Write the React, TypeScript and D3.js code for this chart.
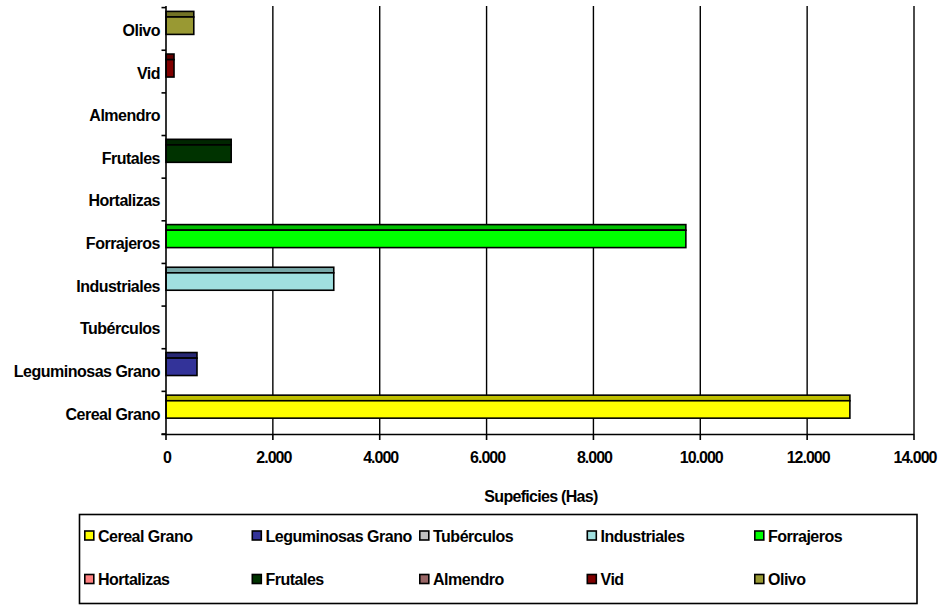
import React from 'react';
import * as d3 from 'd3';

const categories = ['Cereal Grano', 'Leguminosas Grano', 'Tubérculos', 'Industriales', 'Forrajeros', 'Hortalizas', 'Frutales', 'Almendro', 'Vid', 'Olivo'];
const values = [12800, 580, 0, 3140, 9730, 0, 1220, 0, 150, 520];
const colors = ['#FFFF00', '#333399', '#C0C0C0', '#A0E0E0', '#00FF00', '#FF8080', '#003300', '#996666', '#800000', '#999933'];
const xTicks = [0, 2000, 4000, 6000, 8000, 10000, 12000, 14000];
const xTitle = 'Supeficies (Has)';

const W = 942;
const H = 605;
const FONT = '"Liberation Sans", Arial, sans-serif';

const locale = d3.formatLocale({ decimal: ',', thousands: '.', grouping: [3], currency: ['', ''] });
const fmt = locale.format(',');

function shade(c: string, k = 0.75) {
  const r = d3.rgb(c);
  return d3.rgb(r.r * k, r.g * k, r.b * k).formatHex();
}

export default function App() {
  const x = d3.scaleLinear().domain([0, 14000]).range([166, 914]);
  const y = d3.scaleBand<string>().domain(categories).range([434, 7.6]).padding(0);
  const bw = y.bandwidth();
  const bandEdges = d3.range(categories.length + 1).map((i) => 434 - i * bw);

  const legendCols = 5;
  const legendX0 = 84;
  const legendDx = 167.5;
  const legendRows = [535.5, 579];

  return (
    <svg width={W} height={H} style={{ position: 'absolute', left: 0, top: 0, background: '#fff' }} fontFamily={FONT}>
      <rect x={0} y={0} width={W} height={H} fill="#fff" />
      {/* gridlines */}
      {xTicks.filter((t) => t > 0).map((t) => (
        <line key={'g' + t} x1={x(t)} x2={x(t)} y1={6} y2={434} stroke="#000" strokeWidth={1.4} />
      ))}
      {/* bars */}
      {categories.map((c, i) => {
        const v = values[i];
        if (!v) return null;
        const y0 = y(c)!;
        const w = x(v) - x(0);
        return (
          <g key={'b' + c}>
            <rect x={x(0)} y={y0 + 3.8} width={w} height={5.6} fill={shade(colors[i])} stroke="#000" strokeWidth={1.6} />
            <rect x={x(0)} y={y0 + 9.4} width={w} height={17.4} fill={colors[i]} stroke="#000" strokeWidth={1.6} />
          </g>
        );
      })}
      {/* axes */}
      <line x1={166} x2={166} y1={6} y2={434} stroke="#000" strokeWidth={1.6} />
      <line x1={161.5} x2={914} y1={434.5} y2={434.5} stroke="#000" strokeWidth={1.6} />
      {bandEdges.map((yy, i) => (
        <line key={'yt' + i} x1={161.5} x2={166} y1={yy} y2={yy} stroke="#000" strokeWidth={1.6} />
      ))}
      {xTicks.map((t) => (
        <line key={'xt' + t} x1={x(t)} x2={x(t)} y1={434} y2={440} stroke="#000" strokeWidth={1.6} />
      ))}
      {xTicks.map((t) => (
        <text key={'xl' + t} x={x(t) + 1} y={463} textAnchor="middle" fontSize={16} fontWeight="bold" letterSpacing={-1} fill="#000">
          {fmt(t)}
        </text>
      ))}
      {categories.map((c) => (
        <text key={'yl' + c} x={160} y={y(c)! + bw / 2 + 7} textAnchor="end" fontSize={16} fontWeight="bold" letterSpacing={-0.5} fill="#000">
          {c}
        </text>
      ))}
      <text x={541} y={502} textAnchor="middle" fontSize={16} fontWeight="bold" letterSpacing={-0.7} fill="#000">
        {xTitle}
      </text>
      {/* legend */}
      <rect x={79.5} y={514.5} width={837.5} height={89} fill="#fff" stroke="#000" strokeWidth={1.6} />
      {categories.map((c, i) => {
        const col = i % legendCols;
        const row = Math.floor(i / legendCols);
        const lx = legendX0 + col * legendDx;
        const cy = legendRows[row];
        return (
          <g key={'lg' + c}>
            <rect x={lx + 0.8} y={cy - 4.5} width={9} height={9} fill={colors[i]} stroke="#000" strokeWidth={1.6} />
            <text x={lx + 14} y={cy + 6} fontSize={16} fontWeight="bold" letterSpacing={-0.5} fill="#000">
              {c}
            </text>
          </g>
        );
      })}
    </svg>
  );
}
